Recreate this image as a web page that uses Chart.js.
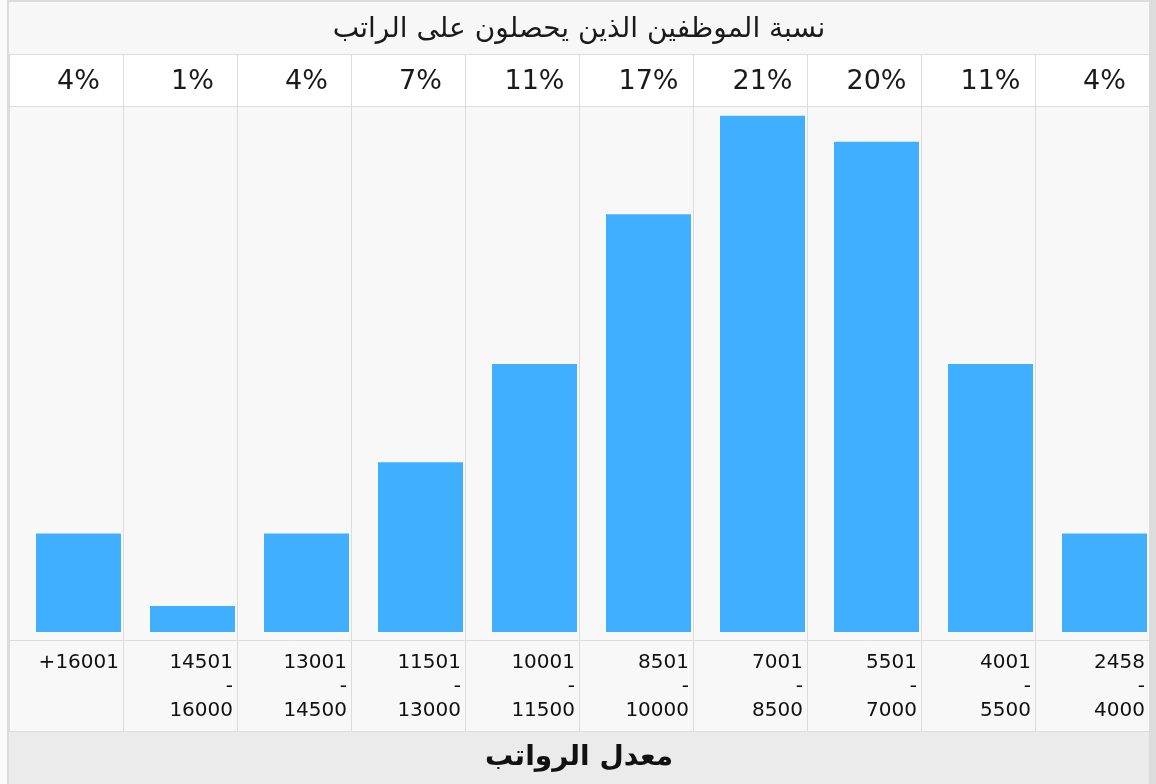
<!DOCTYPE html>
<html lang="ar">
<head>
<meta charset="utf-8">
<title>نسبة الموظفين الذين يحصلون على الراتب</title>
<script src="https://cdn.jsdelivr.net/npm/chart.js@4.4.1/dist/chart.umd.min.js"></script>
<style>
    html, body { margin: 0; padding: 0; background: #fafafa; }
    #frame { position: absolute; left: 7px; top: 0; width: 1149px; height: 784px; background: #dcdcdc; }
    #frame canvas { position: absolute; left: 2px; top: 2px; }
</style>
</head>
<body>
<div id="frame"><canvas id="salaries" width="1140" height="782"></canvas></div>
<script>
// salary bands, lowest first (drawn right to left)
const salaryBands = [
    ["2458", "-", "4000"],
    ["4001", "-", "5500"],
    ["5501", "-", "7000"],
    ["7001", "-", "8500"],
    ["8501", "-", "10000"],
    ["10001", "-", "11500"],
    ["11501", "-", "13000"],
    ["13001", "-", "14500"],
    ["14501", "-", "16000"],
    ["+16001"]
];
// share of employees in each band, in %
const employeeShare = [4.0, 10.9, 19.95, 21.0, 17.0, 10.9, 6.9, 4.0, 1.05, 4.0];
const shareLabels = employeeShare.map(v => Math.round(v) + "%");

const chartTitle = "نسبة الموظفين الذين يحصلون على الراتب";
const axisTitle = "معدل الرواتب";

const FONT = "'DejaVu Sans', sans-serif";
const LINE = "#dcdcdc";
const PCT_ROW = 52;     // row with the percentages
const LABEL_ROW = 91;   // row with the salary bands
const FOOTER_ROW = 53;  // row with the axis title

// paints the table rows behind the chart
const rowBackgrounds = {
    id: "rowBackgrounds",
    beforeDraw(chart) {
        const { ctx, chartArea, scales, titleBlock, width } = chart;
        const bottomAxis = scales.x;
        const topAxis = scales.xTop;
        const labelBottom = bottomAxis.top + LABEL_ROW;
        const fill = (top, bottom, color) => {
            ctx.fillStyle = color;
            ctx.fillRect(0, top, width, bottom - top);
        };
        ctx.save();
        fill(titleBlock.top, titleBlock.bottom, "#f7f7f7");
        fill(topAxis.top, topAxis.bottom, "#ffffff");
        fill(chartArea.top, chartArea.bottom, "#f8f8f8");
        fill(bottomAxis.top, labelBottom, "#f8f8f8");
        fill(labelBottom, bottomAxis.bottom, "#ebebeb");
        ctx.strokeStyle = LINE;
        ctx.lineWidth = 1;
        ctx.beginPath();
        ctx.moveTo(0, Math.round(titleBlock.bottom) + 0.5);
        ctx.lineTo(width, Math.round(titleBlock.bottom) + 0.5);
        ctx.moveTo(0, Math.round(labelBottom) + 0.5);
        ctx.lineTo(width, Math.round(labelBottom) + 0.5);
        ctx.stroke();
        ctx.restore();
    }
};

new Chart(document.getElementById("salaries"), {
    type: "bar",
    data: {
        labels: salaryBands,
        datasets: [
            {
                // empty slot so the bar sits towards the right of its column
                label: "",
                data: salaryBands.map(() => null)
            },
            {
                label: "نسبة الموظفين",
                data: employeeShare,
                backgroundColor: "#40afff",
                borderWidth: 0,
                categoryPercentage: 0.4386,
                barPercentage: 3.4
            }
        ]
    },
    options: {
        responsive: false,
        animation: false,
        layout: { padding: 0 },
        plugins: {
            legend: { display: false },
            tooltip: { enabled: false },
            title: {
                display: true,
                text: chartTitle,
                color: "#1a1a1a",
                font: { family: FONT, size: 28, weight: "normal", lineHeight: 1.2 },
                padding: { top: 11.2, bottom: 7.2 }
            }
        },
        scales: {
            x: {
                reverse: true,
                offset: true,
                afterFit: scale => { scale.height = LABEL_ROW + FOOTER_ROW; },
                grid: { offset: true, color: LINE, tickColor: LINE, tickLength: LABEL_ROW },
                border: { color: LINE },
                ticks: {
                    align: "end",
                    labelOffset: 53,
                    padding: -80,
                    autoSkip: false,
                    maxRotation: 0,
                    color: "#111",
                    font: { family: FONT, size: 20, lineHeight: 1.2 }
                },
                title: {
                    display: true,
                    text: axisTitle,
                    color: "#111",
                    font: { family: FONT, size: 28, weight: "bold", lineHeight: 1.2 },
                    padding: { top: 10, bottom: 9 }
                }
            },
            xTop: {
                type: "category",
                position: "top",
                labels: shareLabels,
                reverse: true,
                offset: true,
                afterFit: scale => { scale.height = PCT_ROW; },
                grid: { offset: true, drawOnChartArea: false, color: LINE, tickColor: LINE, tickLength: PCT_ROW },
                border: { color: LINE },
                ticks: {
                    labelOffset: 12.5,
                    padding: -44,
                    autoSkip: false,
                    maxRotation: 0,
                    color: "#1a1a1a",
                    font: { family: FONT, size: 27, lineHeight: 1.2 }
                }
            },
            y: { display: false, min: -0.33, max: 21.4 }
        }
    },
    plugins: [rowBackgrounds]
});
</script>
</body>
</html>
